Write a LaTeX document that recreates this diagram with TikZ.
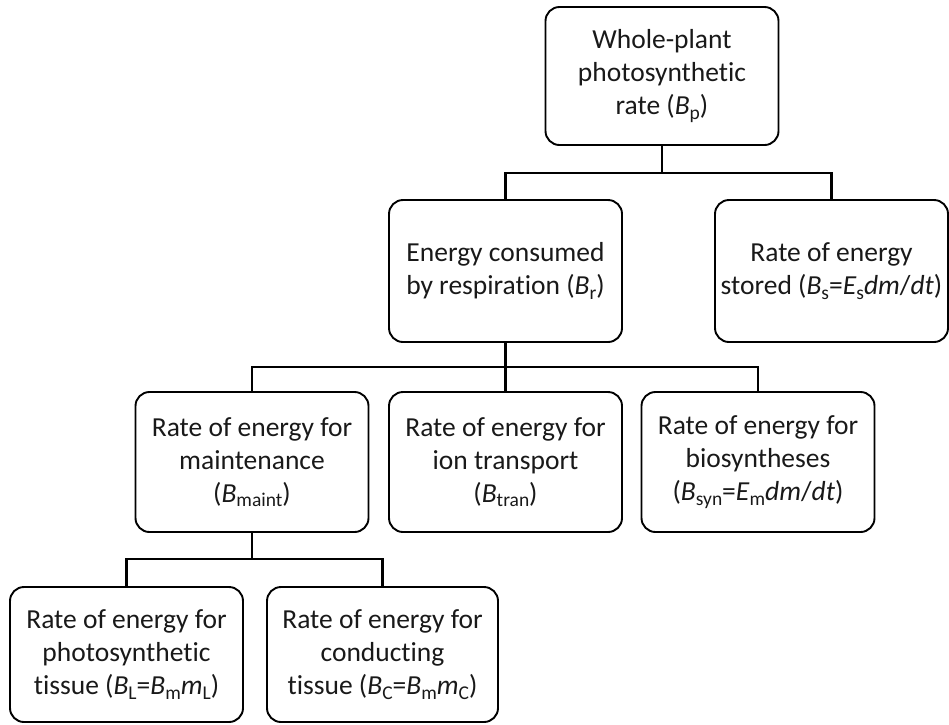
\documentclass[tikz,border=0pt]{standalone}
\usepackage{fontspec}
\setmainfont[Ligatures={NoCommon}]{Carlito}
\newcommand\subt[1]{\raisebox{-0.16em}{\fontsize{19.5}{19.5}\selectfont #1}}
\newcommand\itl[1]{\textit{#1}}
\begin{document}
\begin{tikzpicture}[x=1pt,y=-1pt,
  box/.style={draw=black, line width=1.9pt, rounded corners=14pt,
    minimum width=233pt, minimum height=140pt, inner sep=0pt, align=center,
    font=\fontsize{27.5}{33}\selectfont, text=black!90},
  link/.style={draw=black, line width=2.3pt}]
\useasboundingbox (0,0) rectangle (949,724);
\node[box, minimum height=138pt] (bp) at (662,76) {Whole-plant\\photosynthetic\\rate (\itl{B}\subt{p})};
\node[box, minimum height=142pt] (br) at (505.5,271) {Energy consumed\\by respiration (\itl{B}\subt{r})};
\node[box, minimum height=142pt] (bs) at (831.5,271) {Rate of energy\\stored (\itl{B}\subt{s}=\itl{E}\subt{s}\itl{dm}/\itl{dt})};
\node[box] (maint) at (252,462) {Rate of energy for\\maintenance\\(\itl{B}\subt{maint})};
\node[box] (tran) at (505.5,462) {Rate of energy for\\ion transport\\(\itl{B}\subt{tran})};
\node[box] (bios) at (758,462) {Rate of energy for\\biosyntheses\\(\itl{B}\subt{syn}=\itl{E}\subt{m}\itl{dm}/\itl{dt})};
\node[box, minimum height=135pt] (bl) at (126.5,654.5) {Rate of energy for\\photosynthetic\\tissue (\itl{B}\subt{L}=\itl{B}\subt{m}\itl{m}\subt{L})};
\node[box, minimum height=135pt, minimum width=231pt] (bc) at (382.5,654.5) {Rate of energy for\\conducting\\tissue (\itl{B}\subt{C}=\itl{B}\subt{m}\itl{m}\subt{C})};
\coordinate (j1) at (662,173);
\coordinate (j2) at (505.5,367);
\coordinate (j3) at (252,559);
\draw[link] (bp.south) -- (j1);
\draw[link] (br.north) |- (j1) -| (bs.north);
\draw[link] (br.south) -- (tran.north);
\draw[link] (maint.north) |- (j2) -| (bios.north);
\draw[link] (maint.south) -- (j3);
\draw[link] (bl.north) |- (j3) -| (bc.north);
\end{tikzpicture}
\end{document}
